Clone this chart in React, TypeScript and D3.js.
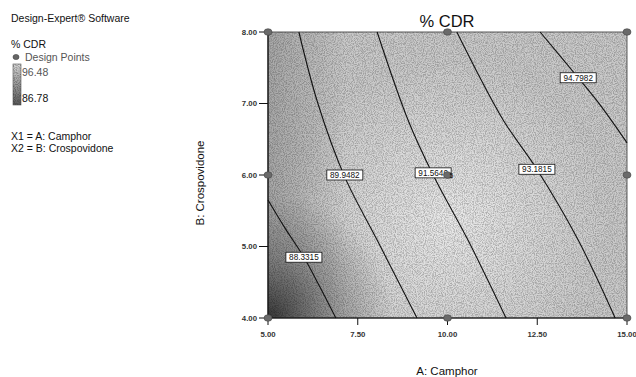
import React from "react";
import * as d3 from "d3";

// ---- data ----
const xDomain: [number, number] = [5, 15];
const yDomain: [number, number] = [4, 8];
const xTicks = [5, 7.5, 10, 12.5, 15];
const yTicks = [4, 5, 6, 7, 8];

const designA = [5, 5, 5, 10, 10, 10, 15, 15, 15];
const designB = [4, 6, 8, 4, 6, 8, 4, 6, 8];

const contourLevels = ["88.3315", "89.9482", "91.5640", "93.1815", "94.7982"];
const contour1: [number, number][] = [[5.0, 5.65], [5.47, 5.26], [6.0, 4.85], [6.45, 4.43], [6.89, 4.0]];
const contour2: [number, number][] = [[5.86, 8.0], [6.39, 7.0], [7.14, 5.97], [8.04, 5.09], [9.15, 4.0]];
const contour3: [number, number][] = [[8.04, 8.0], [8.9, 6.77], [9.6, 6.0], [10.57, 5.09], [11.63, 4.0]];
const contour4: [number, number][] = [[10.26, 8.0], [11.55, 6.77], [12.49, 6.08], [13.64, 5.09], [14.67, 4.0]];
const contour5: [number, number][] = [[12.58, 8.0], [13.64, 7.36], [14.25, 6.98], [15.0, 6.45]];
const contourLines = [contour1, contour2, contour3, contour4, contour5];
const labelPos: [number, number][] = [[6.0, 4.85], [7.14, 6.0], [9.6, 6.03], [12.49, 6.08], [13.64, 7.36]];

const legendHigh = "96.48";
const legendLow = "86.78";

const FONT = "'Liberation Sans', Arial, sans-serif";

export default function App() {
  const left = 268, right = 627, top = 32, bottom = 318;
  const x = d3.scaleLinear().domain(xDomain).range([left, right]);
  const y = d3.scaleLinear().domain(yDomain).range([bottom, top]);
  const line = d3
    .line<[number, number]>()
    .x((d) => x(d[0]))
    .y((d) => y(d[1]))
    .curve(d3.curveCatmullRom.alpha(0.5));

  return (
    <svg width={636} height={377} style={{ position: "absolute", left: 0, top: 0, background: "#fff" }} fontFamily={FONT}>
      <defs>
        <filter id="stip" x="0" y="0" width="100%" height="100%">
          <feTurbulence type="fractalNoise" baseFrequency="0.9" numOctaves="2" seed="4" result="n" />
          <feColorMatrix in="n" type="matrix" values="0 0 0 0 0  0 0 0 0 0  0 0 0 0 0  3.2 0 0 0 -1.25" result="dots" />
          <feComposite in="dots" in2="SourceGraphic" operator="in" />
        </filter>
        <radialGradient id="light" gradientUnits="userSpaceOnUse" cx={450} cy={220} r={160}>
          <stop offset="0" stopColor="#fff" stopOpacity={0.6} />
          <stop offset="1" stopColor="#fff" stopOpacity={0} />
        </radialGradient>
        <radialGradient id="dark" gradientUnits="userSpaceOnUse" cx={left} cy={bottom} r={125}>
          <stop offset="0" stopColor="#222" stopOpacity={0.85} />
          <stop offset="0.5" stopColor="#444" stopOpacity={0.38} />
          <stop offset="1" stopColor="#444" stopOpacity={0} />
        </radialGradient>
        <linearGradient id="leftDark" x1="0" x2="1" y1="0" y2="0">
          <stop offset="0" stopColor="#555" stopOpacity={0.3} />
          <stop offset="0.22" stopColor="#555" stopOpacity={0} />
        </linearGradient>
        <linearGradient id="legGrad" x1="0" x2="0" y1="0" y2="1">
          <stop offset="0" stopColor="#d8d8d8" />
          <stop offset="1" stopColor="#5a5a5a" />
        </linearGradient>
      </defs>

      {/* Legend */}
      <text x={11} y={22} fontSize={10.5} fill="#111">Design-Expert® Software</text>
      <text x={11} y={48} fontSize={10.5} fill="#111">% CDR</text>
      <ellipse cx={16} cy={57} rx={3} ry={2.6} fill="#666" stroke="#444" strokeWidth={0.6} />
      <text x={25} y={61} fontSize={10.5} fill="#555">Design Points</text>
      <rect x={13} y={64} width={8} height={41} fill="url(#legGrad)" stroke="#555" strokeWidth={0.6} />
      <rect x={13} y={64} width={8} height={41} fill="#000" opacity={0.25} filter="url(#stip)" />
      <text x={22} y={76} fontSize={10.5} fill="#555">{legendHigh}</text>
      <text x={22} y={102} fontSize={10.5} fill="#111">{legendLow}</text>
      <text x={11} y={140} fontSize={10.5} fill="#111">X1 = A: Camphor</text>
      <text x={11} y={152} fontSize={10.5} fill="#111">X2 = B: Crospovidone</text>

      {/* Title */}
      <text x={447} y={27} fontSize={16.5} textAnchor="middle" fill="#111">% CDR</text>

      {/* Plot shading */}
      <rect x={left} y={top} width={right - left} height={bottom - top} fill="#cacaca" />
      <rect x={left} y={top} width={right - left} height={bottom - top} fill="url(#light)" />
      <rect x={left} y={top} width={right - left} height={bottom - top} fill="url(#leftDark)" />
      <rect x={left} y={top} width={right - left} height={bottom - top} fill="url(#dark)" />
      <rect x={left} y={top} width={right - left} height={bottom - top} fill="#000" opacity={0.22} filter="url(#stip)" />
      <rect x={left} y={top} width={right - left} height={bottom - top} fill="none" stroke="#333" strokeWidth={0.8} />

      {/* Contour lines */}
      {contourLines.map((c, i) => (
        <path key={i} d={line(c) || ""} fill="none" stroke="#111" strokeWidth={1.1} />
      ))}

      {/* Axes */}
      <line x1={left} x2={left} y1={top} y2={bottom} stroke="#111" strokeWidth={1.2} />
      <line x1={left} x2={right} y1={bottom} y2={bottom} stroke="#111" strokeWidth={1.2} />
      {yTicks.map((t) => (
        <g key={"y" + t}>
          <line x1={left - 9} x2={left} y1={y(t)} y2={y(t)} stroke="#111" strokeWidth={1} />
          <text x={left - 11} y={y(t) + 2.8} fontSize={7.8} textAnchor="end" fill="#333" fontWeight="bold">
            {t.toFixed(2)}
          </text>
        </g>
      ))}
      {xTicks.map((t) => (
        <g key={"x" + t}>
          <line x1={x(t)} x2={x(t)} y1={bottom} y2={bottom + 7} stroke="#111" strokeWidth={1} />
          <text x={x(t)} y={bottom + 19} fontSize={7.8} textAnchor="middle" fill="#333" fontWeight="bold">
            {t.toFixed(2)}
          </text>
        </g>
      ))}

      {/* Axis titles */}
      <text x={447} y={375} fontSize={11.5} textAnchor="middle" fill="#111">A: Camphor</text>
      <text transform={`translate(204,183) rotate(-90)`} fontSize={11.5} textAnchor="middle" fill="#111">
        B: Crospovidone
      </text>

      {/* Contour labels */}
      {labelPos.map((p, i) => (
        <g key={"l" + i} transform={`translate(${x(p[0])},${y(p[1])})`}>
          <rect x={-18} y={-5} width={36} height={10} fill="#fff" stroke="#111" strokeWidth={0.8} />
          <text x={0} y={3} fontSize={8.2} textAnchor="middle" fill="#111">{contourLevels[i]}</text>
        </g>
      ))}

      {/* Design points */}
      {designA.map((a, i) => (
        <ellipse key={"d" + i} cx={x(a)} cy={y(designB[i])} rx={4} ry={3.3} fill="#6a6a6a" stroke="#444" strokeWidth={0.6} />
      ))}
      <text x={x(10) + 2} y={y(6) + 3} fontSize={7} fill="#111">5</text>
    </svg>
  );
}
